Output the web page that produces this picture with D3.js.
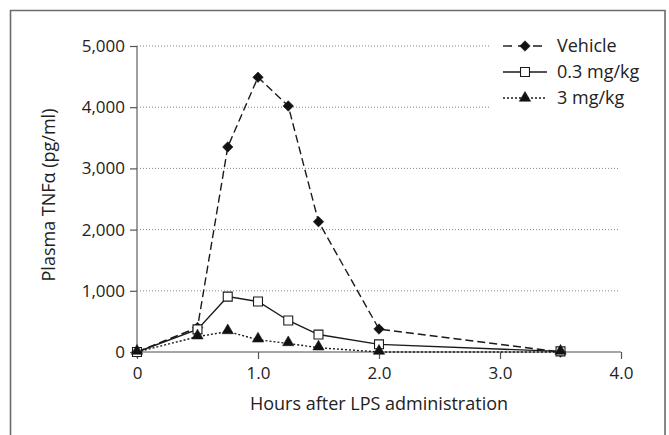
<!DOCTYPE html>
<html><head><meta charset="utf-8">
<script src="https://cdn.jsdelivr.net/npm/d3@7"></script>
<style>body{margin:0;background:#fff}svg{display:block}text{font-family:"Open Sans",sans-serif;fill:#222}</style>
</head><body><svg id="c" width="669" height="435"></svg>
<script>
const hours = [0, 0.5, 0.75, 1.0, 1.25, 1.5, 2.0, 3.5];
const vehicle = [0, 400, 3350, 4490, 4020, 2130, 375, 0];
const dose03 = [0, 370, 905, 825, 515, 285, 125, 10];
const dose3 = [0, 250, 335, 200, 140, 70, 0, 0];
const seriesNames = ["Vehicle", "0.3 mg/kg", "3 mg/kg"];
const yTicks = [0, 1000, 2000, 3000, 4000, 5000];
const xTicks = [0, 1, 2, 3, 4];

const FS = "17px", FT = "18px";
const svg = d3.select("#c");
const x = d3.scaleLinear().domain([0, 4]).range([137, 621]);
const y = d3.scaleLinear().domain([0, 5000]).range([352, 46]);

// outer frame (open at bottom)
svg.append("path").attr("d", "M10.5,440 V10.5 H665 V440").attr("fill", "none").attr("stroke", "#6b6b6b").attr("stroke-width", 1.6);

// gridlines
svg.append("g").selectAll("line").data(yTicks.filter(d => d > 0)).join("line")
  .attr("x1", x(0)).attr("x2", d => d >= 4000 ? 490 : 619)
  .attr("y1", d => y(d)).attr("y2", d => y(d))
  .attr("stroke", "#777").attr("stroke-width", 0.9).attr("stroke-dasharray", "1,2");

// axes
const fmt = d3.format(",");
const yAxis = svg.append("g").attr("transform", `translate(${x(0)},0)`)
  .call(d3.axisLeft(y).tickValues(yTicks).tickFormat(fmt).tickSize(7).tickPadding(5));
const xAxis = svg.append("g").attr("transform", `translate(0,${y(0)})`)
  .call(d3.axisBottom(x).tickValues(xTicks).tickFormat(d => d === 0 ? "0" : d3.format(".1f")(d)).tickSize(7).tickPadding(8));
[yAxis, xAxis].forEach(a => {
  a.select(".domain").attr("stroke", "#888").attr("stroke-width", 1.6);
  a.selectAll(".tick line").attr("stroke", "#555").attr("stroke-width", 1.2);
  a.selectAll("text").style("font-family", '"Open Sans",sans-serif').style("font-size", FS).attr("fill", "#222");
});
yAxis.select(".domain").attr("d", `M0,${y(5000)}V${y(0)}`);
xAxis.select(".domain").attr("d", `M${x(0)},0H${x(4)}`);

// axis titles
svg.append("text").attr("x", 379).attr("y", 410).attr("text-anchor", "middle").style("font-size", FT).text("Hours after LPS administration");
svg.append("text").attr("transform", "translate(55,195) rotate(-90)").attr("text-anchor", "middle").style("font-size", FT).text("Plasma TNFα (pg/ml)");

const diamond = {draw(ctx, size) { const r = Math.sqrt(size / 2); ctx.moveTo(0, -r); ctx.lineTo(r, 0); ctx.lineTo(0, r); ctx.lineTo(-r, 0); ctx.closePath(); }};
const series = [
  {name: seriesNames[0], vals: vehicle, dash: "8,4", ldash: "9,6", sym: diamond, size: 55, fill: "#111"},
  {name: seriesNames[1], vals: dose03, dash: null, ldash: null, sym: d3.symbolSquare, size: 80, fill: "#fff"},
  {name: seriesNames[2], vals: dose3, dash: "2,2", ldash: "2,2", sym: d3.symbolTriangle, size: 55, fill: "#111"}
];
const line = d3.line().x(d => x(d[0])).y(d => y(d[1]));
series.forEach(s => {
  const pts = hours.map((h, i) => [h, s.vals[i]]);
  svg.append("path").attr("d", line(pts)).attr("fill", "none").attr("stroke", "#1a1a1a").attr("stroke-width", 1.4)
    .attr("stroke-dasharray", s.dash);
});
series.forEach(s => {
  const pts = hours.map((h, i) => [h, s.vals[i]]);
  svg.append("g").selectAll("path").data(pts).join("path")
    .attr("transform", d => `translate(${x(d[0])},${y(d[1]) - (s.sym === d3.symbolTriangle ? 1 : 0)})`)
    .attr("d", d3.symbol().type(s.sym).size(s.size))
    .attr("fill", s.fill).attr("stroke", "#1a1a1a").attr("stroke-width", s.fill === "#fff" ? 1.1 : 0.6);
});

// legend
const lg = svg.append("g");
series.forEach((s, i) => {
  const yy = 46 + i * 26;
  lg.append("line").attr("x1", 503).attr("x2", 547).attr("y1", yy).attr("y2", yy)
    .attr("stroke", "#1a1a1a").attr("stroke-width", 1.4).attr("stroke-dasharray", s.ldash);
  lg.append("path").attr("transform", `translate(525,${yy})`).attr("d", d3.symbol().type(s.sym).size(s.size))
    .attr("fill", s.fill).attr("stroke", "#1a1a1a").attr("stroke-width", s.fill === "#fff" ? 1.1 : 0.6);
  lg.append("text").attr("x", 557).attr("y", yy).attr("dy", "0.35em").style("font-size", FT).text(s.name);
});
</script></body></html>
